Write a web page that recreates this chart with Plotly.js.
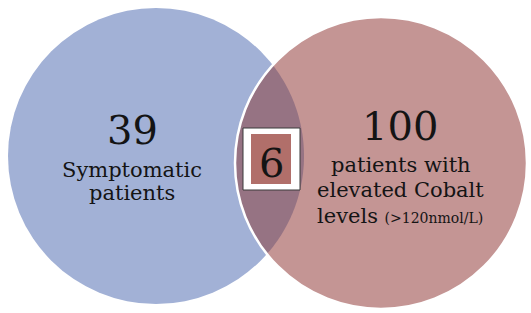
<!DOCTYPE html>
<html>
<head>
<meta charset="utf-8">
<script src="https://cdn.plot.ly/plotly-3.0.1.min.js"></script>
<style>html,body{margin:0;padding:0;background:#fff;}#chart{width:531px;height:313px;}</style>
</head>
<body>
<div id="chart"></div>
<script>
// ---- data ----
const setCounts = [39, 100];
const setLabelLines = [
  ["Symptomatic", "patients"],
  ["patients with", "elevated Cobalt", "levels"]
];
const setNote = ["", "(&gt;120nmol/L)"];
const overlapCount = 6;

// ---- geometry (layout) ----
const W = 531, H = 313;
const c1 = {x: 156, y: 156, r: 148};
const c2 = {x: 381, y: 163, r: 146};
const colBlue = "rgb(162,177,214)";
const colPink = "rgb(196,149,148)";
const colOverlap = "rgb(150,115,131)";
const colBox = "rgb(177,111,106)";
const txtCol = "#141414";
const fontFam = "DejaVu Serif, serif";

function lensPath(a, b) {
  const dx = b.x - a.x, dy = b.y - a.y;
  const d = Math.hypot(dx, dy);
  const phi = Math.atan2(dy, dx);
  const aa = (a.r * a.r - b.r * b.r + d * d) / (2 * d);
  const alpha = Math.acos(aa / a.r);
  const beta = Math.acos((d - aa) / b.r);
  const n = 80;
  const pts1 = [], pts2 = [];
  for (let i = 0; i <= n; i++) {
    const t = phi - alpha + (2 * alpha * i) / n;
    pts1.push([a.x + a.r * Math.cos(t), a.y + a.r * Math.sin(t)]);
  }
  for (let i = 0; i <= n; i++) {
    const t = phi + Math.PI - beta + (2 * beta * i) / n;
    pts2.push([b.x + b.r * Math.cos(t), b.y + b.r * Math.sin(t)]);
  }
  const last = pts1[pts1.length - 1];
  const d0 = Math.hypot(pts2[0][0] - last[0], pts2[0][1] - last[1]);
  const d1 = Math.hypot(pts2[n][0] - last[0], pts2[n][1] - last[1]);
  if (d1 < d0) pts2.reverse();
  const all = pts1.concat(pts2);
  return "M" + all.map(p => p[0].toFixed(2) + "," + p[1].toFixed(2)).join(" L") + " Z";
}

const shapes = [
  {type: "circle", xref: "x", yref: "y", x0: c1.x - c1.r, x1: c1.x + c1.r, y0: c1.y - c1.r, y1: c1.y + c1.r,
   fillcolor: colBlue, line: {width: 0}, layer: "below"},
  {type: "circle", xref: "x", yref: "y", x0: c2.x - c2.r, x1: c2.x + c2.r, y0: c2.y - c2.r, y1: c2.y + c2.r,
   fillcolor: colPink, line: {width: 0}, layer: "below"},
  {type: "path", xref: "x", yref: "y", path: lensPath(c1, c2), fillcolor: colOverlap, line: {width: 0}, layer: "below"},
  {type: "circle", xref: "x", yref: "y", x0: c2.x - c2.r, x1: c2.x + c2.r, y0: c2.y - c2.r, y1: c2.y + c2.r,
   fillcolor: "rgba(0,0,0,0)", line: {color: "#ffffff", width: 2.5}, layer: "below"},
  {type: "rect", xref: "x", yref: "y", x0: 243, x1: 300, y0: 128, y1: 190,
   fillcolor: "#ffffff", line: {color: "#3a3a3a", width: 1}, layer: "below"},
  {type: "rect", xref: "x", yref: "y", x0: 251, x1: 291, y0: 134, y1: 184,
   fillcolor: colBox, line: {width: 0}, layer: "below"}
];

const annotations = [];
function addText(text, x, y, size) {
  annotations.push({x: x, y: y, xref: "x", yref: "y", text: text, showarrow: false,
    xanchor: "center", yanchor: "middle", font: {family: fontFam, size: size, color: txtCol}});
}
// left set
addText(String(setCounts[0]), 132, 130, 40);
addText(setLabelLines[0][0], 132, 170, 21);
addText(setLabelLines[0][1], 132, 193, 21);
// right set
addText(String(setCounts[1]), 400, 126, 40);
addText(setLabelLines[1][0], 401, 165, 21);
addText(setLabelLines[1][1], 400, 190, 21);
addText(setLabelLines[1][2] + " <span style='font-size:14px'>" + setNote[1] + "</span>", 400, 216, 21);
// overlap
addText(String(overlapCount), 271, 163, 40);

const layout = {
  width: W, height: H,
  margin: {l: 0, r: 0, t: 0, b: 0, pad: 0},
  paper_bgcolor: "#ffffff", plot_bgcolor: "#ffffff",
  showlegend: false,
  xaxis: {range: [0, W], visible: false, fixedrange: true},
  yaxis: {range: [H, 0], visible: false, fixedrange: true},
  shapes: shapes,
  annotations: annotations
};

Plotly.newPlot("chart", [{x: [], y: [], type: "scatter", mode: "markers", hoverinfo: "skip"}], layout, {displayModeBar: false, staticPlot: true});
</script>
</body>
</html>
